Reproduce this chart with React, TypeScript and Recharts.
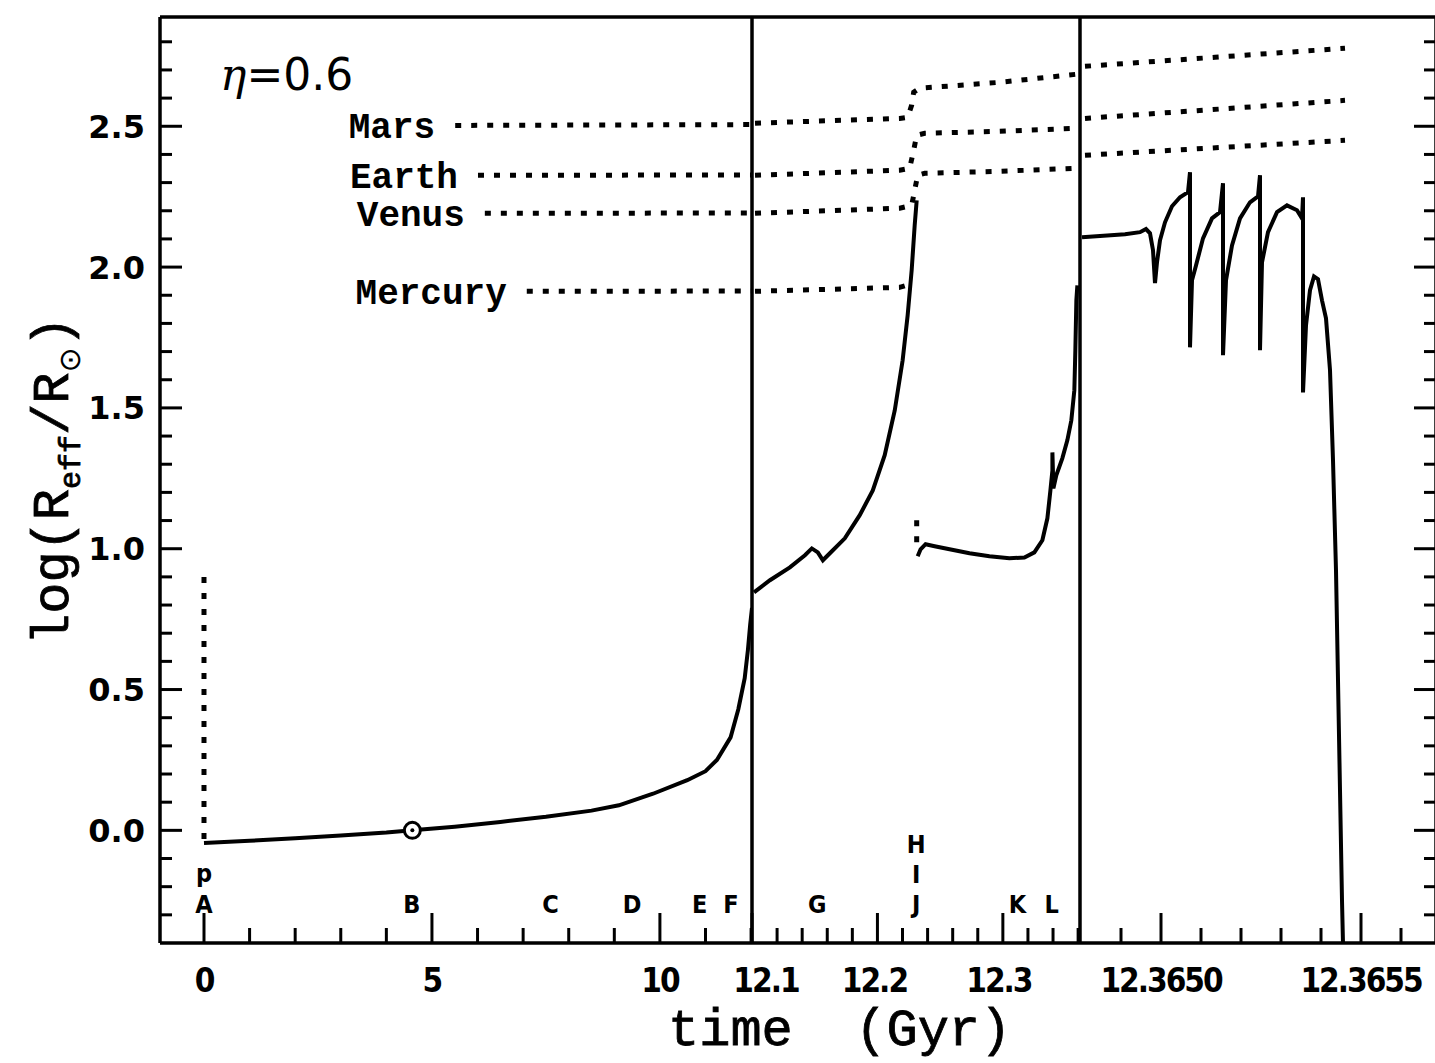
import React from "react";
import { LineChart, Line, XAxis, YAxis, ReferenceDot } from "recharts";

type Pt = [number, number];

// ---- panel 1 : 0 .. 12 Gyr -------------------------------------------------
const MS_TRACK: Pt[] = [
  [0, -0.045], [1, -0.037], [2, -0.028], [3, -0.018], [4, -0.008], [4.57, 0],
  [5.5, 0.013], [6.5, 0.03], [7.5, 0.048], [8.5, 0.07], [9.1, 0.089],
  [9.85, 0.13], [10.6, 0.178], [11.0, 0.21], [11.25, 0.25], [11.55, 0.33],
  [11.72, 0.43], [11.86, 0.54], [11.93, 0.64], [11.98, 0.73], [12.02, 0.79],
];
const PMS_DROP: Pt[] = [[0, 0.9], [0, -0.045]];

const MARS_P1: Pt[] = [[5.51, 2.503], [12.02, 2.506]];
const EARTH_P1: Pt[] = [[6.01, 2.326], [12.02, 2.327]];
const VENUS_P1: Pt[] = [[6.16, 2.191], [12.02, 2.192]];
const MERCURY_P1: Pt[] = [[7.08, 1.914], [12.02, 1.915]];

// ---- panel 2 : 12.1 .. 12.36 Gyr -------------------------------------------
const RGB_TRACK: Pt[] = [
  [12.1016, 0.845], [12.1143, 0.888], [12.1302, 0.934], [12.1422, 0.977],
  [12.1477, 1.001], [12.1525, 0.987], [12.1565, 0.959], [12.1621, 0.984],
  [12.174, 1.037], [12.1859, 1.119], [12.1963, 1.207], [12.2058, 1.332],
  [12.2138, 1.491], [12.2201, 1.669], [12.2241, 1.829], [12.2273, 1.989],
  [12.2297, 2.148], [12.2313, 2.237],
];
const HB_JUMP: Pt[] = [[12.2313, 1.101], [12.2313, 1.019]];
const AGB_TRACK: Pt[] = [
  [12.2321, 0.973], [12.2344, 0.998], [12.2384, 1.016], [12.2456, 1.009],
  [12.2575, 0.998], [12.2734, 0.984], [12.2893, 0.973], [12.3052, 0.966],
  [12.3172, 0.969], [12.3251, 0.987], [12.3315, 1.03], [12.3355, 1.108],
  [12.3379, 1.207], [12.3395, 1.278], [12.3395, 1.342], [12.3403, 1.214],
  [12.3426, 1.261], [12.3474, 1.321], [12.3514, 1.385], [12.3546, 1.456],
  [12.357, 1.563], [12.3578, 1.705], [12.3586, 1.882], [12.3594, 1.935],
];

const MARS_P2: Pt[] = [
  [12.1024, 2.511], [12.2177, 2.528], [12.2241, 2.532], [12.2273, 2.575],
  [12.2289, 2.621], [12.2336, 2.635], [12.2973, 2.656], [12.3593, 2.685],
];
const EARTH_P2: Pt[] = [
  [12.1024, 2.326], [12.2177, 2.344], [12.2257, 2.351], [12.2289, 2.415],
  [12.2313, 2.468], [12.2377, 2.475], [12.2973, 2.482], [12.3593, 2.493],
];
const VENUS_P2: Pt[] = [
  [12.1024, 2.191], [12.2177, 2.209], [12.2273, 2.219], [12.2297, 2.273],
  [12.2321, 2.326], [12.2377, 2.333], [12.2973, 2.34], [12.3593, 2.351],
];
const MERCURY_P2: Pt[] = [[12.1024, 1.914], [12.2177, 1.928], [12.2281, 1.942]];

// ---- panel 3 : thermal pulses, 12.3648 .. 12.3657 Gyr ----------------------
const TP_TRACK: Pt[] = [
  [12.3648025, 2.106], [12.3648475, 2.11], [12.36491, 2.117], [12.3649475, 2.124],
  [12.3649625, 2.135], [12.3649725, 2.12], [12.36498, 2.06], [12.364985, 1.943],
  [12.36499, 2.017], [12.3649975, 2.095], [12.36501, 2.159], [12.3650275, 2.216],
  [12.3650475, 2.248], [12.3650675, 2.266], [12.3650725, 2.337], [12.3650725, 1.715],
  [12.3650775, 1.953], [12.3650875, 2.006], [12.365105, 2.102], [12.3651275, 2.173],
  [12.3651475, 2.195], [12.365155, 2.298], [12.365155, 1.687], [12.3651625, 1.953],
  [12.3651775, 2.077], [12.3651975, 2.173], [12.3652225, 2.23], [12.3652425, 2.251],
  [12.3652475, 2.326], [12.3652475, 1.705], [12.3652525, 2.017], [12.3652675, 2.124],
  [12.36529, 2.195], [12.365315, 2.219], [12.36534, 2.202], [12.3653525, 2.173],
  [12.365355, 2.248], [12.365355, 1.555], [12.3653625, 1.793], [12.3653725, 1.918],
  [12.3653825, 1.967], [12.3653925, 1.957], [12.3654025, 1.882], [12.3654125, 1.818],
  [12.3654225, 1.634], [12.36543, 1.314], [12.3654375, 0.923], [12.3654425, 0.533],
  [12.3654475, 0.142], [12.3654525, -0.249], [12.365455, -0.401],
];

const MARS_P3: Pt[] = [[12.36481, 2.713], [12.365135, 2.745], [12.36546, 2.777]];
const EARTH_P3: Pt[] = [[12.36481, 2.528], [12.36546, 2.592]];
const VENUS_P3: Pt[] = [[12.36481, 2.397], [12.36546, 2.45]];

// ---- phase letters ----------------------------------------------------------
const P1_LETTERS = ["p", "A", "B", "C", "D", "E", "F"];
const P1_LETTER_T = [0, 0, 4.56, 7.6, 9.39, 10.87, 11.56];
const P1_LETTER_V = [-0.15, -0.26, -0.26, -0.26, -0.26, -0.26, -0.26];
const P2_LETTERS = ["G", "H", "I", "J", "K", "L"];
const P2_LETTER_T = [12.152, 12.2308, 12.2308, 12.2308, 12.3116, 12.339];
const P2_LETTER_V = [-0.26, -0.05, -0.155, -0.26, -0.26, -0.26];
const SUN_NOW: Pt = [4.57, 0];

// ---- axes -------------------------------------------------------------------
const range = (a: number, b: number, step: number) =>
  Array.from({ length: Math.round((b - a) / step) + 1 }, (_, i) => +(a + i * step).toFixed(6));

const Y_DOMAIN: [number, number] = [-0.4, 2.888];
const Y_TICKS = range(-0.3, 2.8, 0.1);
const Y_MAJORS = [0, 0.5, 1, 1.5, 2, 2.5];

const P1_DOMAIN: [number, number] = [-0.965, 12.02];
const P1_TICKS = range(0, 12, 1);
const P1_MAJORS = [0, 5, 10];
const P1_LABELS = ["0", "5", "10"];

const P2_DOMAIN: [number, number] = [12.1, 12.3615];
const P2_TICKS = range(12.1, 12.36, 0.02);
const P2_MAJORS = [12.1, 12.2, 12.3];
const P2_LABELS = ["12.1", "12.2", "12.3"];
const P2_LABEL_DX = [14, -3, -4];

const P3_DOMAIN: [number, number] = [12.3647975, 12.3656875];
const P3_TICKS = range(12.3649, 12.3656, 0.0001);
const P3_MAJORS = [12.365, 12.3655];
const P3_LABELS = ["12.3650", "12.3655"];

const W = 1435;
const H = 1063;
const TOP = 17;
const BOTTOM = 943;
const X1 = 160;
const X2 = 752;
const X3 = 1080;
const X4 = 1436;

const AXIS = { stroke: "#000", strokeWidth: 3.5 };
const TRACK = { stroke: "#000", strokeWidth: 4 };
const DOTS = { stroke: "#000", strokeWidth: 5, strokeDasharray: "6 10" };

const X_LABEL_FONT: React.CSSProperties = {
  fontFamily: "'DejaVu Sans Condensed', 'DejaVu Sans', sans-serif",
  fontWeight: 700, fontSize: 33, letterSpacing: -2, fill: "#000",
};
const Y_LABEL_FONT: React.CSSProperties = {
  fontFamily: "'DejaVu Sans', sans-serif", fontWeight: 700, fontSize: 32, fill: "#000",
};
const LETTER_FONT: React.CSSProperties = {
  fontFamily: "'DejaVu Sans Condensed', 'DejaVu Sans', sans-serif",
  fontWeight: 700, fontSize: 25, fill: "#000",
};
const PLANET_FONT: React.CSSProperties = {
  fontFamily: "'Liberation Mono', monospace", fontWeight: 700, fontSize: 36, fill: "#000",
};
const TITLE_FONT: React.CSSProperties = {
  fontFamily: "'Liberation Mono', monospace", fontSize: 52, fill: "#000",
  stroke: "#000", strokeWidth: 0.8, whiteSpace: "pre",
};

const rows = (pts: Pt[]) => pts.map(([t, v]) => ({ t, v }));
const near = (a: number, b: number) => Math.abs(a - b) < 1e-9;

// inward tick marks, long on majors; labels only under the bottom axis
function xTick(side: "top" | "bottom", majors: number[], labels: string[] = [], dx: number[] = []) {
  return (p: any) => {
    const i = majors.findIndex((m) => near(m, p.payload.value));
    const len = i >= 0 ? 30 : 15;
    const dir = side === "bottom" ? -1 : 1;
    return (
      <g>
        <line x1={p.x} x2={p.x} y1={p.y} y2={p.y + dir * len} stroke="#000" strokeWidth={3} />
        {side === "bottom" && i >= 0 && labels[i] ? (
          <text x={p.x + (dx[i] ?? 0)} y={p.y + 49} textAnchor="middle" style={X_LABEL_FONT}>
            {labels[i]}
          </text>
        ) : null}
      </g>
    );
  };
}

function yTick(side: "left" | "right") {
  return (p: any) => {
    const v = p.payload.value;
    const major = Y_MAJORS.some((m) => near(m, v));
    const len = major ? 22 : 12;
    const dir = side === "left" ? 1 : -1;
    return (
      <g>
        <line x1={p.x} x2={p.x + dir * len} y1={p.y} y2={p.y} stroke="#000" strokeWidth={3} />
        {side === "left" && major ? (
          <text x={p.x - 15} y={p.y} dy="0.36em" textAnchor="end" style={Y_LABEL_FONT}>
            {v.toFixed(1)}
          </text>
        ) : null}
      </g>
    );
  };
}

function planetLabel(name: string) {
  return (p: any) =>
    p.index === 0 ? (
      <text x={p.x - 20} y={p.y} dy="0.35em" textAnchor="end" style={PLANET_FONT}>
        {name}
      </text>
    ) : (
      <g />
    );
}

const letterShape = (label: string) => (p: any) => (
  <text x={p.cx} y={p.cy} dy="0.36em" textAnchor="middle" style={LETTER_FONT}>
    {label}
  </text>
);

const sunShape = (p: any) => (
  <g>
    <circle cx={p.cx} cy={p.cy} r={8} fill="#fff" stroke="#000" strokeWidth={3} />
    <circle cx={p.cx} cy={p.cy} r={2} fill="#000" />
  </g>
);

function track(key: string, pts: Pt[], style: any, label?: any) {
  return (
    <Line
      key={key}
      data={rows(pts)}
      dataKey="v"
      type="linear"
      dot={false}
      activeDot={false}
      isAnimationActive={false}
      fill="none"
      label={label}
      {...style}
    />
  );
}

function xAxes(domain: [number, number], ticks: number[], majors: number[], labels: string[], dx: number[] = []) {
  return [
    <XAxis
      key="xb"
      xAxisId={0}
      type="number"
      dataKey="t"
      orientation="bottom"
      domain={domain}
      allowDataOverflow
      ticks={ticks}
      interval={0}
      height={10}
      tickSize={0}
      tickMargin={0}
      tickLine={false}
      axisLine={AXIS}
      tick={xTick("bottom", majors, labels, dx)}
    />,
    <XAxis
      key="xt"
      xAxisId="top"
      type="number"
      orientation="top"
      domain={domain}
      allowDataOverflow
      ticks={ticks}
      interval={0}
      height={10}
      tickSize={0}
      tickMargin={0}
      tickLine={false}
      axisLine={AXIS}
      tick={xTick("top", majors)}
    />,
  ];
}

const abs: React.CSSProperties = { position: "absolute", left: 0, top: 0 };

export default function App() {
  const vMargin = { top: TOP - 10, bottom: H - BOTTOM - 10 };
  return (
    <div style={{ ...abs, width: W, height: H, overflow: "hidden", background: "#fff" }}>
      {/* panel 1 */}
      <div style={abs}>
        <LineChart width={W} height={H} margin={{ ...vMargin, left: X1 - 60, right: W - X2 }}>
          {xAxes(P1_DOMAIN, P1_TICKS, P1_MAJORS, P1_LABELS)}
          <YAxis
            type="number"
            domain={Y_DOMAIN}
            allowDataOverflow
            ticks={Y_TICKS}
            interval={0}
            width={60}
            tickSize={0}
            tickMargin={0}
            tickLine={false}
            axisLine={AXIS}
            tick={yTick("left")}
          />
          {track("pms", PMS_DROP, DOTS)}
          {track("ms", MS_TRACK, TRACK)}
          {track("mars1", MARS_P1, DOTS, planetLabel("Mars"))}
          {track("earth1", EARTH_P1, DOTS, planetLabel("Earth"))}
          {track("venus1", VENUS_P1, DOTS, planetLabel("Venus"))}
          {track("mercury1", MERCURY_P1, DOTS, planetLabel("Mercury"))}
          <ReferenceDot x={SUN_NOW[0]} y={SUN_NOW[1]} r={8} shape={sunShape} />
          {P1_LETTERS.map((l, i) => (
            <ReferenceDot key={"l1" + i} x={P1_LETTER_T[i]} y={P1_LETTER_V[i]} r={1} shape={letterShape(l)} />
          ))}
        </LineChart>
      </div>

      {/* panel 2 */}
      <div style={abs}>
        <LineChart width={W} height={H} margin={{ ...vMargin, left: X2 - 10, right: W - X3 }}>
          {xAxes(P2_DOMAIN, P2_TICKS, P2_MAJORS, P2_LABELS, P2_LABEL_DX)}
          <YAxis type="number" domain={Y_DOMAIN} allowDataOverflow width={10} tick={false} tickLine={false} axisLine={AXIS} />
          {track("rgb", RGB_TRACK, TRACK)}
          {track("hbjump", HB_JUMP, DOTS)}
          {track("agb", AGB_TRACK, TRACK)}
          {track("mars2", MARS_P2, DOTS)}
          {track("earth2", EARTH_P2, DOTS)}
          {track("venus2", VENUS_P2, DOTS)}
          {track("mercury2", MERCURY_P2, DOTS)}
          {P2_LETTERS.map((l, i) => (
            <ReferenceDot key={"l2" + i} x={P2_LETTER_T[i]} y={P2_LETTER_V[i]} r={1} shape={letterShape(l)} />
          ))}
        </LineChart>
      </div>

      {/* panel 3 */}
      <div style={abs}>
        <LineChart width={X4 + 1} height={H} margin={{ ...vMargin, left: X3 - 10, right: 0 }}>
          {xAxes(P3_DOMAIN, P3_TICKS, P3_MAJORS, P3_LABELS)}
          <YAxis type="number" domain={Y_DOMAIN} allowDataOverflow width={10} tick={false} tickLine={false} axisLine={AXIS} />
          <YAxis
            yAxisId="right"
            orientation="right"
            type="number"
            domain={Y_DOMAIN}
            allowDataOverflow
            ticks={Y_TICKS}
            interval={0}
            width={1}
            tickSize={0}
            tickMargin={0}
            tickLine={false}
            axisLine={AXIS}
            tick={yTick("right")}
          />
          {track("tp", TP_TRACK, TRACK)}
          {track("mars3", MARS_P3, DOTS)}
          {track("earth3", EARTH_P3, DOTS)}
          {track("venus3", VENUS_P3, DOTS)}
        </LineChart>
      </div>

      {/* titles */}
      <svg width={W} height={H} style={{ ...abs, pointerEvents: "none" }}>
        <text x={220} y={90} style={{ fontSize: 44, fill: "#000" }}>
          <tspan style={{ fontFamily: "'DejaVu Serif', serif", fontStyle: "italic" }}>η</tspan>
          <tspan style={{ fontFamily: "'DejaVu Sans', sans-serif" }}>=0.6</tspan>
        </text>
        <text x={668} y={1045} style={TITLE_FONT}>
          time  (Gyr)
        </text>
        <text transform="translate(68, 645) rotate(-90)" style={TITLE_FONT}>
          log(R
          <tspan dy={12} style={{ fontSize: 30 }}>eff</tspan>
          <tspan dy={-12}>/R</tspan>
          <tspan dy={12} style={{ fontSize: 30, fontFamily: "'DejaVu Sans', sans-serif", strokeWidth: 0 }}>⊙</tspan>
          <tspan dy={-12}>)</tspan>
        </text>
      </svg>
    </div>
  );
}
